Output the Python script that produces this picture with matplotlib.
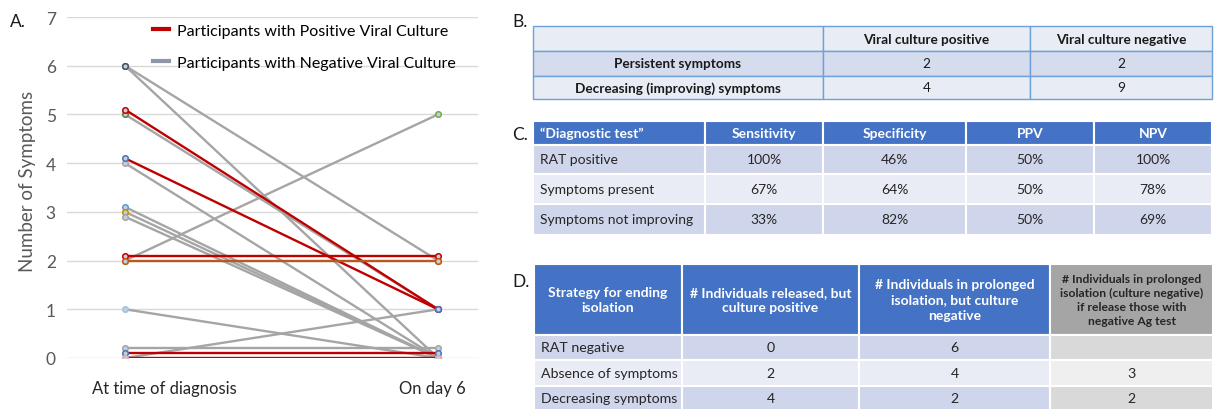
import matplotlib.pyplot as plt
from matplotlib.lines import Line2D
from matplotlib.patches import Rectangle

plt.rcParams['font.family'] = ['Lato', 'DejaVu Sans']

# ---- A. symptom counts per participant ----
time_points = ['At time of diagnosis', 'On day 6']
symptoms_diagnosis = [6, 6, 5.1, 5, 4.1, 4, 3.1, 3.0, 2.9, 2.1, 2, 2, 1, 0.2, 0.1, 0, 0]
symptoms_day6 = [2, 0, 1, 1, 1, 0, 0, 0, 0, 2.1, 2, 5, 0, 0.2, 0.1, 0, 1]
culture = ['neg', 'neg', 'pos', 'neg', 'pos', 'neg', 'neg', 'neg', 'neg',
           'pos', 'pos2', 'neg', 'neg', 'neg', 'pos', 'pos', 'neg']
legend_labels = ['Participants with Positive Viral Culture',
                 'Participants with Negative Viral Culture']

# ---- B. symptoms vs culture ----
b_header = ['', 'Viral culture positive', 'Viral culture negative']
b_rows = ['Persistent symptoms', 'Decreasing (improving) symptoms']
b_culture_pos = [2, 4]
b_culture_neg = [2, 9]

# ---- C. diagnostic performance ----
c_header = ['\u201cDiagnostic test\u201d', 'Sensitivity', 'Specificity', 'PPV', 'NPV']
c_rows = ['RAT positive', 'Symptoms present', 'Symptoms not improving']
sensitivity = [100, 67, 33]
specificity = [46, 64, 82]
ppv = [50, 50, 50]
npv = [100, 78, 69]

# ---- D. strategies for ending isolation ----
d_header = ['Strategy for ending\nisolation',
            '# Individuals released, but\nculture positive',
            '# Individuals in prolonged\nisolation, but culture\nnegative',
            '# Individuals in prolonged\nisolation (culture negative)\nif release those with\nnegative Ag test']
d_rows = ['RAT negative', 'Absence of symptoms', 'Decreasing symptoms']
released_culture_pos = [0, 2, 4]
prolonged_culture_neg = [6, 4, 2]
prolonged_if_ag_release = [None, 3, 2]

W, H = 1216, 410
fig = plt.figure(figsize=(W / 100, H / 100), dpi=100)

# overlay axes in pixel coordinates for tables and panel letters
tax = fig.add_axes([0, 0, 1, 1])
tax.set_xlim(0, W)
tax.set_ylim(H, 0)
tax.axis('off')

# ---------------- chart A ----------------
ax = fig.add_axes([67 / W, 1 - 359 / H, (478 - 67) / W, (359 - 18) / H])
line_colors = {'pos': '#C00000', 'pos2': '#B85A1E', 'neg': '#A5A5A5'}
marker_edges = ['#44546A', '#44546A', '#C00000', '#548235', '#4472C4', '#A5A5A5',
                '#5B9BD5', '#BF9000', '#A5A5A5', '#C00000', '#C55A11', '#70AD47',
                '#9DC3E6', '#A5A5A5', '#4472C4', '#E0B0B0', '#A5A5A5']
order = sorted(range(len(culture)), key=lambda i: culture[i] != 'neg')
for i in order:
    ax.plot([0, 1], [symptoms_diagnosis[i], symptoms_day6[i]],
            color=line_colors[culture[i]], lw=1.7, marker='o', ms=4,
            mfc='#C8CDD8', mec=marker_edges[i], mew=1.1, zorder=3 if culture[i] != 'neg' else 2)

ax.set_xlim(-58 / 313, 1 + 40 / 313)
ax.set_ylim(0, 7)
ax.set_yticks(range(0, 8))
# category labels sit slightly off the marker columns, as in the original
ax.set_xticks([0 + 39 / 313, 1 - 6 / 313])
ax.set_xticklabels(time_points, fontsize=12, color='#262626')
ax.tick_params(axis='y', length=0, pad=8, labelsize=12.5, labelcolor='#595959')
ax.tick_params(axis='x', length=0, pad=16)
ax.grid(axis='y', color='#D9D9D9', lw=1)
ax.set_axisbelow(True)
for s in ax.spines.values():
    s.set_visible(False)
ax.set_ylabel('Number of Symptoms', fontsize=13.5, color='#595959', va='center')
ax.yaxis.set_label_coords(-0.095, 0.52)

handles = [Line2D([], [], color='#C00000', lw=3), Line2D([], [], color='#8E96A8', lw=3)]
ax.legend(handles, legend_labels, loc='upper left', bbox_to_anchor=(0.205, 0.985),
          frameon=False, fontsize=11.5, handlelength=1.0, handletextpad=0.5,
          labelspacing=1.1, borderaxespad=0, borderpad=0.1)

# ---------------- table helper ----------------
def draw_table(xs, ys, texts, fills, edge, lw, fsizes, weights, colors, aligns, linesp=1.2):
    for r in range(len(ys) - 1):
        for c in range(len(xs) - 1):
            x0, x1, y0, y1 = xs[c], xs[c + 1], ys[r], ys[r + 1]
            tax.add_patch(Rectangle((x0, y0), x1 - x0, y1 - y0, facecolor=fills[r][c],
                                    edgecolor=edge, lw=lw))
            t = texts[r][c]
            if t is None or t == '':
                continue
            if aligns[r][c] == 'left':
                tx, ha = x0 + 7, 'left'
            else:
                tx, ha = (x0 + x1) / 2, 'center'
            tax.text(tx, (y0 + y1) / 2, t, ha=ha, va='center', fontsize=fsizes[r][c],
                     fontweight=weights[r][c], color=colors[r][c], linespacing=linesp)

# ---------------- table B ----------------
bx = [533, 823, 1030, 1212]
by = [27, 52, 77, 100]
b_text = [b_header] + [[b_rows[i], str(b_culture_pos[i]), str(b_culture_neg[i])] for i in range(2)]
b_fill = [['#E8ECF5'] * 3, ['#D4DCEE'] * 3, ['#E8ECF5'] * 3]
b_w = [['bold'] * 3, ['bold', 'normal', 'normal'], ['bold', 'normal', 'normal']]
draw_table(bx, by, b_text, b_fill, '#6FA0D8', 1.0,
           [[9.8] * 3] * 3, b_w, [['#1A1A1A'] * 3] * 3, [['center'] * 3] * 3)

# ---------------- table C ----------------
cx = [533, 705, 823, 966, 1094, 1212]
cy = [122, 146, 175, 205, 236]
c_text = [c_header] + [[c_rows[i]] + ['%d%%' % v[i] for v in (sensitivity, specificity, ppv, npv)]
                      for i in range(3)]
c_fill = [['#4472C4'] * 5, ['#CFD5EA'] * 5, ['#E9EBF5'] * 5, ['#CFD5EA'] * 5]
c_w = [['bold'] * 5] + [['normal'] * 5] * 3
c_col = [['white'] * 5] + [['#262626'] * 5] * 3
c_al = [['left'] + ['center'] * 4] * 4
draw_table(cx, cy, c_text, c_fill, 'white', 1.5, [[10] * 5] * 4, c_w, c_col, c_al)

# ---------------- table D ----------------
dx = [534, 682, 859, 1050, 1213]
dy = [265, 336, 361, 387, 412]
d_text = [d_header] + [[d_rows[i], str(released_culture_pos[i]), str(prolonged_culture_neg[i]),
                        '' if prolonged_if_ag_release[i] is None else str(prolonged_if_ag_release[i])]
                       for i in range(3)]
d_fill = [['#4472C4'] * 3 + ['#A5A5A5'],
          ['#CFD5EA'] * 3 + ['#D9D9D9'],
          ['#E9EBF5'] * 3 + ['#EFEFEF'],
          ['#CFD5EA'] * 3 + ['#D9D9D9']]
d_fs = [[10, 10, 10, 8.7]] + [[10.2] * 4] * 3
d_w = [['bold'] * 4] + [['normal'] * 4] * 3
d_col = [['white'] * 3 + ['#262626']] + [['#262626'] * 4] * 3
d_al = [['center'] * 4] + [['left'] + ['center'] * 3] * 3
draw_table(dx, dy, d_text, d_fill, 'white', 1.5, d_fs, d_w, d_col, d_al, linesp=1.32)

# ---------------- panel letters ----------------
for lab, x, y in [('A.', 10, 22), ('B.', 512, 22), ('C.', 512, 135), ('D.', 512, 282)]:
    tax.text(x, y, lab, fontsize=12.5, ha='left', va='center', color='#1A1A1A')

fig.savefig('out.png', dpi=100)
